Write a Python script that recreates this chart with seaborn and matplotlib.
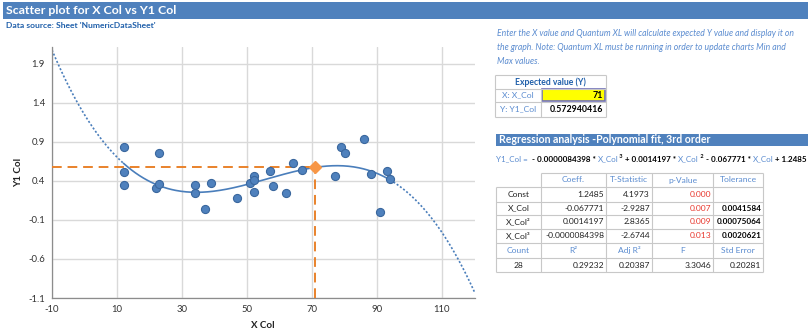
import numpy as np
import pandas as pd
import matplotlib
matplotlib.use("Agg")
import matplotlib.pyplot as plt
import seaborn as sns
from matplotlib.patches import Rectangle

# ---------------- data ----------------
x_col = [12, 12, 12, 23, 22, 23, 34, 34, 37, 39, 47, 51, 52, 52, 52, 57, 58, 62,
         64, 67, 77, 79, 80, 86, 88, 91, 93, 94]
y1_col = [0.83, 0.515, 0.345, 0.76, 0.315, 0.357, 0.345, 0.247, 0.039, 0.37, 0.175,
          0.37, 0.468, 0.409, 0.264, 0.523, 0.336, 0.247, 0.629, 0.536, 0.468, 0.833,
          0.753, 0.931, 0.489, 0.005, 0.523, 0.425]
# polynomial coefficients (3rd, 2nd, 1st, const) as shown in the regression table
poly_coeffs = [-0.0000084398, 0.0014197, -0.067771, 1.2485]
expected_x = 71
expected_y = 0.572940416
x_ticks = [-10, 10, 30, 50, 70, 90, 110]
y_ticks = [-1.1, -0.6, -0.1, 0.4, 0.9, 1.4, 1.9]

reg_cols = ["", "Coeff.", "T-Statistic", "p-Value", "Tolerance"]
reg_rows = [
    ["Const", "1.2485", "4.1973", "0.000", ""],
    ["X_Col", "-0.067771", "-2.9287", "0.007", "0.0041584"],
    ["X_Col\u00b2", "0.0014197", "2.8365", "0.009", "0.00075064"],
    ["X_Col\u00b3", "-0.0000084398", "-2.6744", "0.013", "0.0020621"],
]
stat_names = ["Count", "R\u00b2", "Adj R\u00b2", "F", "Std Error"]
stat_values = ["28", "0.29232", "0.20387", "3.3046", "0.20281"]

df = pd.DataFrame({"X Col": x_col, "Y1 Col": y1_col})

# ---------------- style ----------------
sns.set_style("white")
plt.rcParams["font.family"] = ["Lato", "DejaVu Sans"]

W, H = 810, 330
fig = plt.figure(figsize=(W / 100, H / 100), dpi=100)

BLUE_BAR = "#4F81BD"
DARK_BLUE = "#1F5FAA"
LIGHT_BLUE = "#5B8CD0"
GRID = "#D9D9D9"
ORANGE = "#E9822B"
FS = 6.1

# overlay axes in pixel coordinates (top-left origin)
ov = fig.add_axes([0, 0, 1, 1], zorder=0)
ov.set_xlim(0, W)
ov.set_ylim(H, 0)
ov.axis("off")

# title bar
ov.add_patch(Rectangle((3, 2), W - 5, 17, color=BLUE_BAR, lw=0))
ov.text(6, 11, "Scatter plot for X Col vs Y1 Col", color="white", fontsize=8.9,
        fontweight="bold", va="center", ha="left")
ov.text(6, 25.5, "Data source: Sheet 'NumericDataSheet'", color=DARK_BLUE, fontsize=6.1,
        fontweight="bold", va="center", ha="left")

# instruction text
instr = ["Enter the X value and Quantum XL will calculate expected Y value and display it on",
         "the graph. Note: Quantum XL must be running in order to update charts Min and",
         "Max values."]
for i, line in enumerate(instr):
    ov.text(497, 33 + i * 14.5, line, color=LIGHT_BLUE, fontsize=6.2, style="italic",
            va="center", ha="left")

LINE = "#C8C8C8"

def hline(x0, x1, y, color=LINE, lw=0.8):
    ov.plot([x0, x1], [y, y], color=color, lw=lw, solid_capstyle="butt")

def vline(x, y0, y1, color=LINE, lw=0.8):
    ov.plot([x, x], [y0, y1], color=color, lw=lw, solid_capstyle="butt")

# expected value table
ex0, exm, ex1 = 495, 541, 606
ey = [75, 88.5, 101.5, 116.5]
for y in ey:
    hline(ex0, ex1, y)
vline(ex0, ey[0], ey[3])
vline(ex1, ey[0], ey[3])
vline(exm, ey[1], ey[3])
ov.text((ex0 + ex1) / 2, (ey[0] + ey[1]) / 2, "Expected value (Y)", color=DARK_BLUE,
        fontsize=6.2, fontweight="bold", ha="center", va="center")
ov.add_patch(Rectangle((exm + 1, ey[1] + 0.5), ex1 - exm - 2, ey[2] - ey[1] - 1,
                       facecolor="#FFFF00", edgecolor="#6F6FB8", lw=1.2))
ov.text((ex0 + exm) / 2, (ey[1] + ey[2]) / 2, "X: X_Col", color=LIGHT_BLUE, fontsize=FS,
        ha="center", va="center")
ov.text(ex1 - 3, (ey[1] + ey[2]) / 2, str(expected_x), color="black", fontsize=6.4,
        fontweight="bold", ha="right", va="center")
ov.text((ex0 + exm) / 2, (ey[2] + ey[3]) / 2, "Y: Y1_Col", color=LIGHT_BLUE, fontsize=FS,
        ha="center", va="center")
ov.text(ex1 - 3, (ey[2] + ey[3]) / 2, f"{expected_y:.9f}", color="black", fontsize=6.3,
        fontweight="bold", ha="right", va="center")

# regression header
ov.add_patch(Rectangle((496, 134), W - 498, 11.5, color=BLUE_BAR, lw=0))
ov.text(499, 139.8, "Regression analysis -Polynomial fit, 3rd order", color="white",
        fontsize=7.6, fontweight="bold", ha="left", va="center")

# equation line composed of pieces
renderer = fig.canvas.get_renderer()
EFS = 5.75
pieces = [("Y1_Col = ", LIGHT_BLUE, "normal", EFS, 0),
          (" - 0.0000084398 * ", "black", "bold", EFS, 0),
          ("X_Col", LIGHT_BLUE, "normal", EFS, 0),
          (" 3", "black", "bold", 4.0, -2.5),
          (" + 0.0014197 * ", "black", "bold", EFS, 0),
          ("X_Col", LIGHT_BLUE, "normal", EFS, 0),
          (" 2", "black", "bold", 4.0, -2.5),
          (" - 0.067771 * ", "black", "bold", EFS, 0),
          ("X_Col", LIGHT_BLUE, "normal", EFS, 0),
          (" + 1.2485", "black", "bold", EFS, 0)]
xcur = 496
for txt, col, wt, fs, dy in pieces:
    t = ov.text(xcur, 159 + dy, txt, color=col, fontweight=wt, fontsize=fs,
                ha="left", va="center")
    bb = t.get_window_extent(renderer=renderer)
    xcur += bb.width * W / fig.bbox.width

# regression table
cx = [496, 541, 606, 652, 713, 763]
ry = [173, 187, 201.5, 215, 228.5, 243, 258, 272]
hline(cx[1], cx[5], ry[0])
for y in ry[1:]:
    hline(cx[0], cx[5], y)
vline(cx[0], ry[1], ry[7])
for x in cx[1:]:
    vline(x, ry[0], ry[7])

def cell_mid(r):
    return (ry[r] + ry[r + 1]) / 2

for j in range(1, 5):
    ov.text((cx[j] + cx[j + 1]) / 2, cell_mid(0), reg_cols[j], color=LIGHT_BLUE,
            fontsize=FS, ha="center", va="center")
for i, row in enumerate(reg_rows):
    r = i + 1
    ov.text((cx[0] + cx[1]) / 2, cell_mid(r), row[0], color="#222222", fontsize=FS,
            ha="center", va="center")
    ov.text(cx[2] - 2, cell_mid(r), row[1], color="#222222", fontsize=FS, ha="right", va="center")
    ov.text(cx[3] - 2, cell_mid(r), row[2], color="#222222", fontsize=FS, ha="right", va="center")
    ov.text(cx[4] - 2, cell_mid(r), row[3], color="#E8392F", fontsize=FS, ha="right", va="center")
    ov.text(cx[5] - 1.5, cell_mid(r), row[4], color="black", fontsize=5.9, fontweight="bold",
            ha="right", va="center")
for j in range(5):
    ov.text((cx[j] + cx[j + 1]) / 2, cell_mid(5), stat_names[j], color=LIGHT_BLUE,
            fontsize=FS, ha="center", va="center")
ov.text((cx[0] + cx[1]) / 2, cell_mid(6), stat_values[0], color="#222222", fontsize=FS,
        ha="center", va="center")
for j in range(1, 5):
    ov.text(cx[j + 1] - 2, cell_mid(6), stat_values[j], color="#222222", fontsize=FS,
            ha="right", va="center")

# ---------------- chart ----------------
L, R, T, B = 52, 474.5, 46.6, 298
ax = fig.add_axes([L / W, 1 - B / H, (R - L) / W, (B - T) / H], zorder=1)
ax.set_xlim(-10, 120)
ax.set_ylim(-1.1, 2.12)
ax.set_xticks(x_ticks)
ax.set_yticks(y_ticks)
ax.set_xticklabels([str(v) for v in x_ticks])
ax.set_yticklabels([f"{v:.1f}" for v in y_ticks])
ax.grid(True, color=GRID, lw=1.0)
ax.set_axisbelow(True)
for s in ["top", "right"]:
    ax.spines[s].set_visible(False)
for s in ["left", "bottom"]:
    ax.spines[s].set_color("#8C8C8C")
    ax.spines[s].set_linewidth(0.9)
ax.tick_params(axis="both", which="both", direction="out", length=3, width=0.8,
               color="#8C8C8C", labelsize=6.8, labelcolor="#333333", pad=2)

# fitted curve: solid over data range, dotted outside
xmin, xmax = min(x_col), max(x_col)
xs_in = np.linspace(xmin, xmax, 200)
xs_lo = np.linspace(-10, xmin, 100)
xs_hi = np.linspace(xmax, 120, 100)
ax.plot(xs_in, np.polyval(poly_coeffs, xs_in), color="#4A7EBB", lw=1.2, zorder=2)
ax.plot(xs_lo, np.polyval(poly_coeffs, xs_lo), color="#4A7EBB", lw=1.2, ls=(0, (1.2, 1.2)), zorder=2)
ax.plot(xs_hi, np.polyval(poly_coeffs, xs_hi), color="#4A7EBB", lw=1.2, ls=(0, (1.2, 1.2)), zorder=2)

# expected value guide lines
ax.plot([-10, expected_x], [expected_y, expected_y], color=ORANGE, lw=1.4,
        ls=(0, (5, 3)), zorder=3)
ax.plot([expected_x, expected_x], [-1.1, expected_y], color=ORANGE, lw=1.4,
        ls=(0, (5, 3)), zorder=3)

sns.scatterplot(data=df, x="X Col", y="Y1 Col", ax=ax, s=34, color="#4F81BD",
                edgecolor="#3A679E", linewidth=0.8, zorder=4, legend=False)
ax.plot([expected_x], [expected_y], marker="D", ms=6, color="#F79646",
        markeredgecolor="#F79646", zorder=5)

ax.set_xlabel("X Col", fontsize=7, fontweight="bold", color="#222222", labelpad=5)
ax.set_ylabel("Y1 Col", fontsize=7, fontweight="bold", color="#222222", labelpad=4)

fig.savefig("out.png", dpi=100)
